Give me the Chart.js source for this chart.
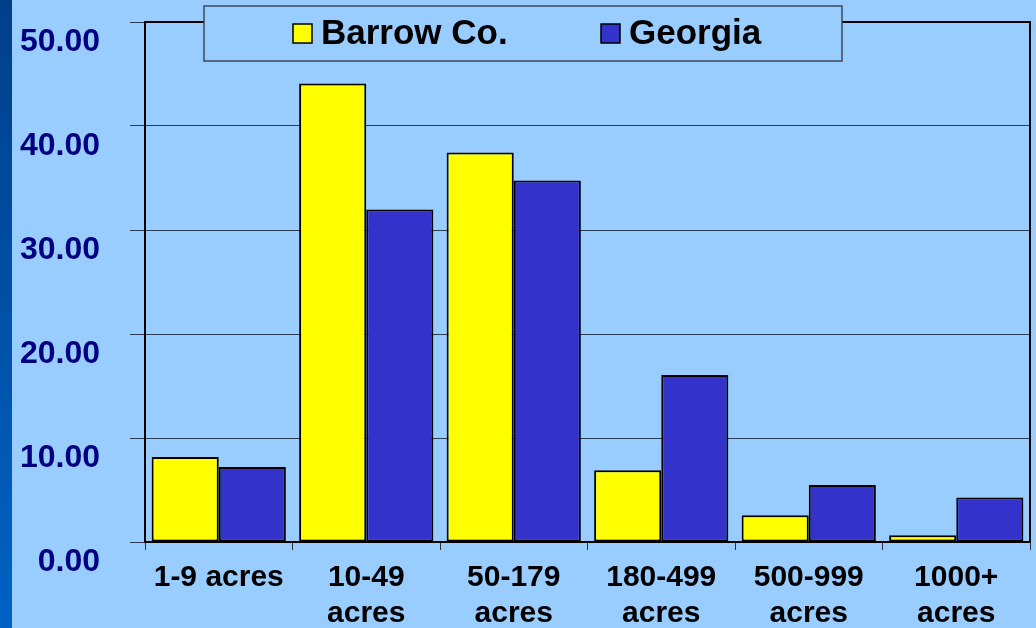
<!DOCTYPE html>
<html>
<head>
<meta charset="utf-8">
<script src="https://cdn.jsdelivr.net/npm/chart.js@4"></script>
<style>
  html, body { margin: 0; padding: 0; }
  body {
    width: 1036px; height: 628px; overflow: hidden;
    background: #99CCFF;
    position: relative;
  }
  #stripe {
    position: absolute; left: 0; top: 0; width: 12px; height: 628px;
    background: linear-gradient(to bottom, #003F8A, #0062C4);
  }
  #wrap { position: absolute; left: 0; top: 0; width: 1036px; height: 628px; }
</style>
</head>
<body>
<div id="stripe"></div>
<div id="wrap"><canvas id="grafico" width="1036" height="628"></canvas></div>
<script>
// categorias e series
const categorias = [["1-9 acres"], ["10-49", "acres"], ["50-179", "acres"], ["180-499", "acres"], ["500-999", "acres"], ["1000+", "acres"]];
const barrow = [8.17, 44.08, 37.44, 6.89, 2.57, 0.64];
const georgia = [7.2, 31.96, 34.75, 16.06, 5.48, 4.27];
const nomesSeries = ["Barrow Co.", "Georgia"];
const coresSeries = ["#FFFF00", "#3333CC"];

// moldura do grafico + legenda desenhada a mao
const molduraPlugin = {
    id: "moldura",
    beforeDatasetsDraw(chart) {
        const a = chart.chartArea;
        const ctx = chart.ctx;
        ctx.save();
        ctx.strokeStyle = "#000";
        ctx.lineWidth = 2;
        ctx.beginPath();
        ctx.moveTo(a.left, a.top);
        ctx.lineTo(a.right, a.top);
        ctx.lineTo(a.right, a.bottom);
        ctx.stroke();
        ctx.restore();
    },
    afterDraw(chart) {
        const ctx = chart.ctx;
        ctx.save();
        // caixa da legenda
        ctx.fillStyle = "#99CCFF";
        ctx.fillRect(204, 6, 638, 55);
        ctx.strokeStyle = "#3a4a5a";
        ctx.lineWidth = 1.5;
        ctx.strokeRect(204, 6, 638, 55);
        ctx.font = "bold 35px 'Liberation Sans', Arial, sans-serif";
        ctx.textBaseline = "middle";
        const posX = [293, 601];
        chart.data.datasets.forEach((ds, i) => {
            ctx.fillStyle = ds.backgroundColor;
            ctx.fillRect(posX[i], 24, 19, 19);
            ctx.strokeStyle = "#000";
            ctx.lineWidth = 1.5;
            ctx.strokeRect(posX[i], 24, 19, 19);
            ctx.fillStyle = "#000";
            ctx.fillText(ds.label, posX[i] + 28, 34);
        });
        ctx.restore();
    }
};

const ctx = document.getElementById("grafico").getContext("2d");

new Chart(ctx, {
    type: "bar",
    data: {
        labels: categorias,
        datasets: [barrow, georgia].map((valores, i) => ({
            label: nomesSeries[i],
            data: valores,
            backgroundColor: coresSeries[i],
            borderColor: "#000",
            borderWidth: 2,
            borderSkipped: false,
            categoryPercentage: 0.91,
            barPercentage: 1.0
        }))
    },
    options: {
        responsive: false,
        animation: false,
        layout: { padding: { top: 22, right: 6, left: 0, bottom: 0 } },
        plugins: {
            legend: { display: false },
            tooltip: { enabled: false }
        },
        scales: {
            x: {
                grid: {
                    offset: true,
                    drawOnChartArea: false,
                    drawTicks: true,
                    tickLength: 8,
                    color: "#333"
                },
                border: { display: true, color: "#000", width: 2 },
                ticks: {
                    color: "#000",
                    font: { family: "'Liberation Sans', Arial, sans-serif", size: 30, weight: "bold", lineHeight: 1.2 },
                    padding: 10,
                    maxRotation: 0,
                    autoSkip: false
                },
                afterFit(scale) { scale.height = 86; }
            },
            y: {
                min: 0,
                max: 50,
                grid: {
                    color: "#2b3d50",
                    lineWidth: 1,
                    tickLength: 15
                },
                border: { display: true, color: "#000", width: 2 },
                ticks: {
                    stepSize: 10,
                    color: "#000080",
                    font: { family: "'Liberation Sans', Arial, sans-serif", size: 32, weight: "bold" },
                    padding: 30,
                    labelOffset: 20,
                    callback: v => v.toFixed(2)
                },
                afterFit(scale) {
                    scale.width = 145;
                    scale.paddingTop = 0;
                    scale.paddingBottom = 0;
                }
            }
        }
    },
    plugins: [molduraPlugin]
});
</script>
</body>
</html>
